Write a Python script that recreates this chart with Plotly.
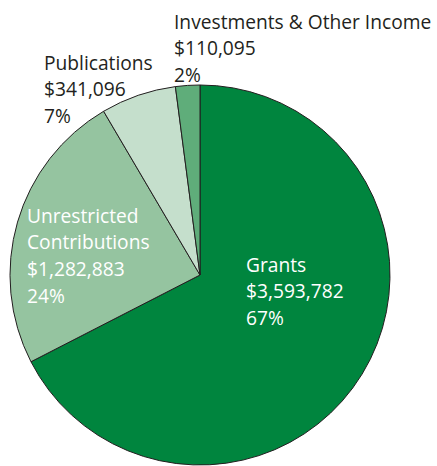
import plotly.graph_objects as go

categories = ["Grants", "Unrestricted Contributions", "Publications", "Investments & Other Income"]
label_lines = [["Grants"], ["Unrestricted", "Contributions"], ["Publications"], ["Investments & Other Income"]]
amounts = [3593782, 1282883, 341096, 110095]
pct_labels = ["67%", "24%", "7%", "2%"]
colors = ["#00853e", "#95c4a0", "#c5dfcc", "#5fad7a"]
text_colors = ["#ffffff", "#ffffff", "#231f20", "#231f20"]

W, H = 437, 466
# label block positions in px (left x, first-line center y)
label_pos = [(244, 264), (25, 215), (42, 62), (172, 21)]
cx, cy, r = 200, 275, 190

fig = go.Figure(go.Pie(
    labels=categories,
    values=amounts,
    sort=False,
    direction="clockwise",
    rotation=0,
    textinfo="none",
    hoverinfo="label+value+percent",
    marker=dict(colors=colors, line=dict(color="#231f20", width=1)),
    domain=dict(x=[(cx - r) / W, (cx + r) / W],
                y=[(H - cy - r) / H, (H - cy + r) / H]),
    showlegend=False,
))

LS = 26.7
for i, cat in enumerate(categories):
    lines = label_lines[i] + ["${:,}".format(amounts[i]), pct_labels[i]]
    x0, y0 = label_pos[i]
    for j, t in enumerate(lines):
        fig.add_annotation(
            x=x0 / W, y=1 - (y0 + j * LS) / H, xref="paper", yref="paper",
            text=t, showarrow=False, xanchor="left", yanchor="middle",
            font=dict(family="Open Sans", size=19.2, color=text_colors[i]),
        )

fig.update_layout(
    width=W, height=H,
    margin=dict(l=0, r=0, t=0, b=0),
    paper_bgcolor="white", plot_bgcolor="white",
)
fig.write_html("out.html",
               config={"displayModeBar": False},
               post_script="document.body.style.margin='0';document.body.style.overflow='hidden';")
